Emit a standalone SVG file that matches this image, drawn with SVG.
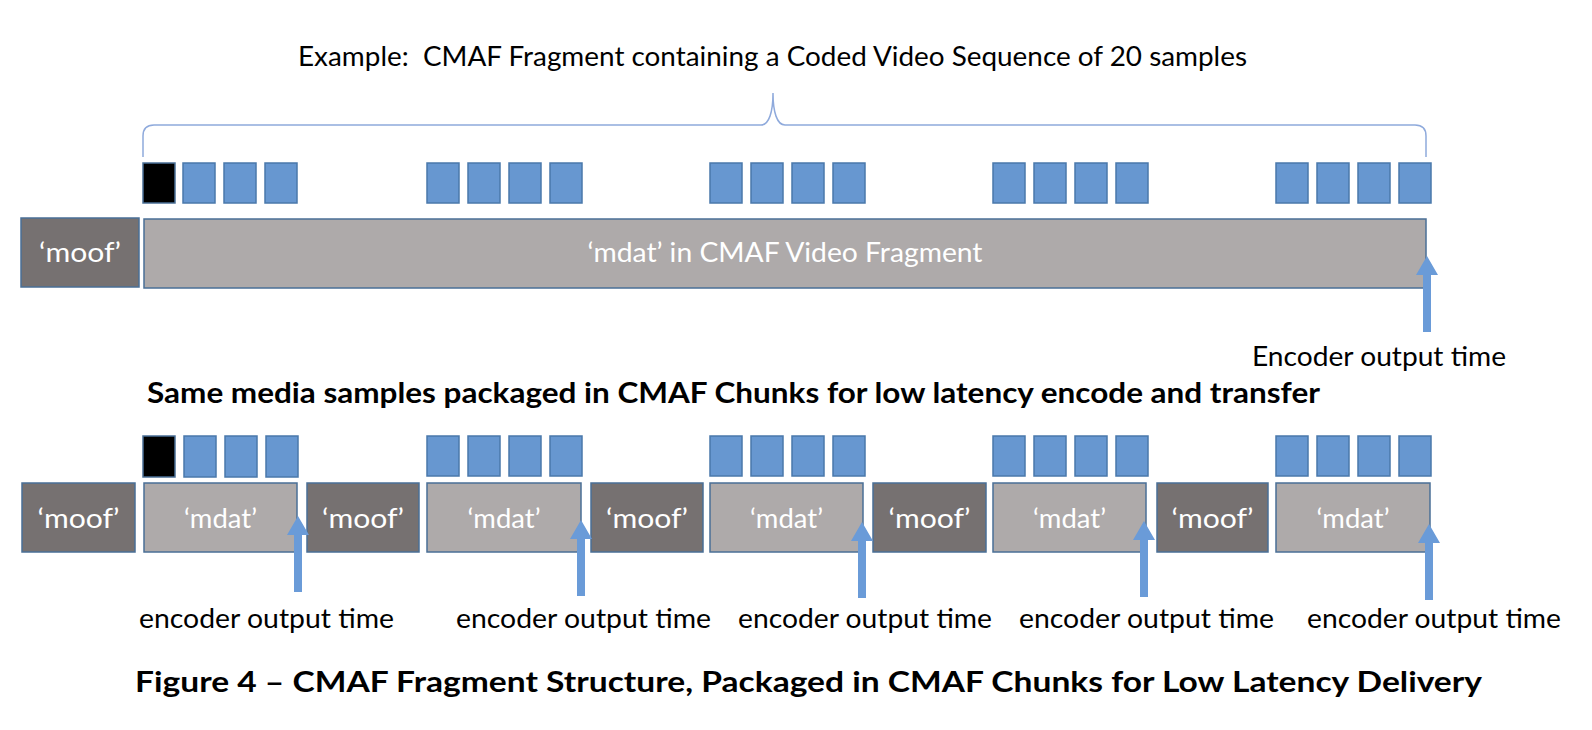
<svg xmlns="http://www.w3.org/2000/svg" width="1592" height="730" viewBox="0 0 1592 730">
<style>
  .t { font-family: Lato, "Open Sans", "Liberation Sans", sans-serif; fill: #000; }
  .b { font-weight: bold; fill: #000; }
  .w { fill: #ffffff; font-family: Lato, "Open Sans", "Liberation Sans", sans-serif; font-size: 27px; text-anchor: middle; }
  .moof { fill: #767171; stroke: #4a6f96; stroke-width: 1.5; }
  .mdat { fill: #AEAAAA; stroke: #4a6f96; stroke-width: 1.5; }
  .s { fill: #6797D0; stroke: #4a78ab; stroke-width: 1.5; }
  .k { fill: #000000; stroke: #4a6f96; stroke-width: 1.5; }
  .arr { fill: #6A9BD8; stroke: none; }
  .brace { fill: none; stroke: #8FAADC; stroke-width: 1.5; }
</style>
<defs>
  <g id="samples4">
    <rect class="s" x="0" y="0" width="32" height="40"/>
    <rect class="s" x="41" y="0" width="32" height="40"/>
    <rect class="s" x="82" y="0" width="32" height="40"/>
    <rect class="s" x="123" y="0" width="32" height="40"/>
  </g>
  <path id="arrow" d="M0,0 L11,19 L4,19 L4,76 L-4,76 L-4,19 L-11,19 Z"/>
</defs>
<rect width="1592" height="730" fill="#ffffff"/>

<g id="title">
  <text class="t" x="298" y="66" font-size="27" xml:space="preserve" textLength="949" lengthAdjust="spacingAndGlyphs">Example:  CMAF Fragment containing a Coded Video Sequence of 20 samples</text>
</g>

<g id="brace">
  <path class="brace" d="M143,157 L143,136 Q143,125 154,125 L761,125 C769,125 773,112 773,93 C773,112 777,125 785,125 L1415,125 Q1426,125 1426,136 L1426,157"/>
</g>

<g id="top-samples">
  <rect class="k" x="143" y="163" width="32" height="40"/>
  <rect class="s" x="183" y="163" width="32" height="40"/>
  <rect class="s" x="224" y="163" width="32" height="40"/>
  <rect class="s" x="265" y="163" width="32" height="40"/>
  <use href="#samples4" x="427" y="163"/>
  <use href="#samples4" x="710" y="163"/>
  <use href="#samples4" x="993" y="163"/>
  <use href="#samples4" x="1276" y="163"/>
</g>

<g id="top-moof">
  <rect class="moof" x="21" y="218" width="118" height="69"/>
  <text class="w" x="80" y="262" textLength="82" lengthAdjust="spacingAndGlyphs">‘moof’</text>
</g>
<g id="top-mdat">
  <rect class="mdat" x="144" y="219" width="1282" height="69"/>
  <text class="w" x="785" y="262" textLength="395" lengthAdjust="spacingAndGlyphs">‘mdat’ in CMAF Video Fragment</text>
</g>

<g id="subtitle">
  <text class="t b" x="147" y="403" font-size="28" textLength="1173" lengthAdjust="spacingAndGlyphs">Same media samples packaged in CMAF Chunks for low latency encode and transfer</text>
</g>

<g id="bottom-samples">
  <rect class="k" x="143" y="436" width="32" height="41"/>
  <rect class="s" x="184" y="436" width="32" height="41"/>
  <rect class="s" x="225" y="436" width="32" height="41"/>
  <rect class="s" x="266" y="436" width="32" height="41"/>
  <use href="#samples4" x="427" y="436"/>
  <use href="#samples4" x="710" y="436"/>
  <use href="#samples4" x="993" y="436"/>
  <use href="#samples4" x="1276" y="436"/>
</g>

<g id="chunk1">
  <rect class="moof" x="22" y="483" width="113" height="69"/>
  <text class="w" x="78.5" y="528" textLength="82" lengthAdjust="spacingAndGlyphs">‘moof’</text>
  <rect class="mdat" x="144" y="483" width="153" height="69"/>
  <text class="w" x="220.5" y="528" textLength="73" lengthAdjust="spacingAndGlyphs">‘mdat’</text>
</g>
<g id="chunk2">
  <rect class="moof" x="307" y="483" width="112" height="69"/>
  <text class="w" x="363" y="528" textLength="82" lengthAdjust="spacingAndGlyphs">‘moof’</text>
  <rect class="mdat" x="427" y="483" width="154" height="69"/>
  <text class="w" x="504" y="528" textLength="73" lengthAdjust="spacingAndGlyphs">‘mdat’</text>
</g>
<g id="chunk3">
  <rect class="moof" x="591" y="483" width="112" height="69"/>
  <text class="w" x="647" y="528" textLength="82" lengthAdjust="spacingAndGlyphs">‘moof’</text>
  <rect class="mdat" x="710" y="483" width="153" height="69"/>
  <text class="w" x="786.5" y="528" textLength="73" lengthAdjust="spacingAndGlyphs">‘mdat’</text>
</g>
<g id="chunk4">
  <rect class="moof" x="873" y="483" width="113" height="69"/>
  <text class="w" x="929.5" y="528" textLength="82" lengthAdjust="spacingAndGlyphs">‘moof’</text>
  <rect class="mdat" x="993" y="483" width="153" height="69"/>
  <text class="w" x="1069.5" y="528" textLength="73" lengthAdjust="spacingAndGlyphs">‘mdat’</text>
</g>
<g id="chunk5">
  <rect class="moof" x="1157" y="483" width="111" height="69"/>
  <text class="w" x="1212.5" y="528" textLength="82" lengthAdjust="spacingAndGlyphs">‘moof’</text>
  <rect class="mdat" x="1276" y="483" width="154" height="69"/>
  <text class="w" x="1353" y="528" textLength="73" lengthAdjust="spacingAndGlyphs">‘mdat’</text>
</g>

<g id="connectors">
  <use href="#arrow" class="arr" x="1427" y="256"/>
  <use href="#arrow" class="arr" x="298" y="516"/>
  <use href="#arrow" class="arr" x="581" y="520"/>
  <use href="#arrow" class="arr" x="862" y="522"/>
  <use href="#arrow" class="arr" x="1144" y="521"/>
  <use href="#arrow" class="arr" x="1429" y="524"/>
</g>

<g id="labels">
  <text class="t" x="1252" y="366" font-size="27" textLength="254" lengthAdjust="spacingAndGlyphs">Encoder output time</text>
  <text class="t" x="139" y="628" font-size="27" textLength="255" lengthAdjust="spacingAndGlyphs">encoder output time</text>
  <text class="t" x="456" y="628" font-size="27" textLength="255" lengthAdjust="spacingAndGlyphs">encoder output time</text>
  <text class="t" x="738" y="628" font-size="27" textLength="254" lengthAdjust="spacingAndGlyphs">encoder output time</text>
  <text class="t" x="1019" y="628" font-size="27" textLength="255" lengthAdjust="spacingAndGlyphs">encoder output time</text>
  <text class="t" x="1307" y="628" font-size="27" textLength="254" lengthAdjust="spacingAndGlyphs">encoder output time</text>
</g>

<g id="caption">
  <text class="t b" x="135" y="692" font-size="28" textLength="1347" lengthAdjust="spacingAndGlyphs">Figure 4 – CMAF Fragment Structure, Packaged in CMAF Chunks for Low Latency Delivery</text>
</g>
</svg>
